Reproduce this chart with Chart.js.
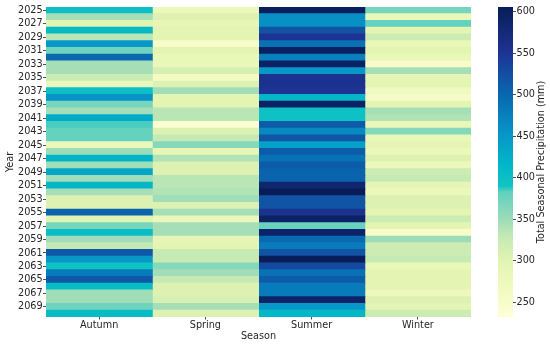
<!DOCTYPE html>
<html>
<head>
<meta charset="utf-8">
<script src="https://cdn.jsdelivr.net/npm/chart.js@4"></script>
<style>
  html, body { margin: 0; padding: 0; background: #fff; }
  #wrap { position: relative; width: 550px; height: 345px; }
  #heat { position: absolute; left: 0; top: 0; }
  #cbar { position: absolute; left: 490px; top: 0; }
</style>
</head>
<body>
<div id="wrap">
  <canvas id="heat" width="480" height="345"></canvas>
  <canvas id="cbar" width="60" height="345"></canvas>
</div>
<script>
const years = [2025, 2026, 2027, 2028, 2029, 2030, 2031, 2032, 2033, 2034,
  2035, 2036, 2037, 2038, 2039, 2040, 2041, 2042, 2043, 2044,
  2045, 2046, 2047, 2048, 2049, 2050, 2051, 2052, 2053, 2054,
  2055, 2056, 2057, 2058, 2059, 2060, 2061, 2062, 2063, 2064,
  2065, 2066, 2067, 2068, 2069, 2070];
const seasons = ['Autumn', 'Spring', 'Summer', 'Winter'];

// precipitation (mm), one value per year
const autumn = [400, 345, 300, 410, 335, 450, 375, 500, 345, 345,
  325, 280, 400, 455, 370, 345, 430, 385, 380, 380,
  280, 350, 420, 348, 435, 348, 415, 345, 305, 305,
  505, 300, 370, 405, 348, 330, 515, 450, 392, 480,
  515, 405, 348, 348, 375, 405];
const spring = [280, 305, 290, 298, 298, 252, 298, 285, 285, 312,
  262, 305, 348, 298, 298, 335, 335, 235, 305, 328,
  362, 290, 340, 305, 305, 335, 335, 340, 348, 305,
  345, 285, 345, 345, 292, 298, 328, 328, 362, 348,
  328, 305, 305, 312, 345, 305];
const summer = [600, 458, 458, 520, 550, 490, 598, 475, 595, 450,
  555, 555, 550, 415, 595, 395, 395, 512, 465, 518,
  440, 512, 490, 512, 505, 505, 585, 606, 520, 520,
  555, 595, 378, 592, 498, 480, 520, 605, 530, 490,
  512, 480, 480, 590, 450, 415];
const winter = [370, 285, 380, 298, 322, 285, 298, 285, 252, 345,
  292, 298, 270, 255, 298, 345, 340, 285, 362, 285,
  292, 280, 305, 280, 322, 328, 292, 280, 305, 305,
  298, 322, 298, 252, 350, 322, 322, 328, 285, 298,
  298, 298, 278, 305, 298, 322];
const cbTicks = [250, 300, 350, 400, 450, 500, 550, 600];

const values = [autumn, spring, summer, winter];
const vmin = 232, vmax = 606;

// colour ramp
const ramp = [
  [232, '#fdfed6'], [260, '#f4fbc4'], [300, '#e2f4b2'], [330, '#c4e9b4'],
  [350, '#9cdcb8'], [383, '#60d0c0'], [390, '#10c4c4'], [420, '#00b4c8'],
  [450, '#0898c8'], [500, '#0868b0'], [550, '#1e3494'], [606, '#081d58']
];

function hexRgb(h) {
  return [1, 3, 5].map(i => parseInt(h.substr(i, 2), 16));
}
function colorFor(v) {
  if (v <= ramp[0][0]) return ramp[0][1];
  for (let i = 1; i < ramp.length; i++) {
    if (v <= ramp[i][0]) {
      const t = (v - ramp[i - 1][0]) / (ramp[i][0] - ramp[i - 1][0]);
      const a = hexRgb(ramp[i - 1][1]), b = hexRgb(ramp[i][1]);
      const c = a.map((x, j) => Math.round(x + (b[j] - x) * t));
      return 'rgb(' + c.join(',') + ')';
    }
  }
  return ramp[ramp.length - 1][1];
}

const font = { family: 'DejaVu Sans', size: 9.7 };
const ink = '#262626';

new Chart(document.getElementById('heat'), {
  type: 'bar',
  data: {
    labels: years.map(String),
    datasets: seasons.map((s, k) => ({
      label: s,
      data: years.map(() => [k, k + 1]),
      backgroundColor: values[k].map(colorFor),
      borderWidth: 0,
      inflateAmount: 0.5,
      barPercentage: 1,
      categoryPercentage: 1,
      grouped: false
    }))
  },
  options: {
    indexAxis: 'y',
    responsive: false,
    animation: false,
    layout: { padding: { top: 7, right: 9, left: 0, bottom: 0 } },
    plugins: { legend: { display: false }, tooltip: { enabled: false } },
    scales: {
      x: {
        type: 'linear',
        min: 0,
        max: 4,
        afterBuildTicks: s => { s.ticks = seasons.map((_, k) => ({ value: k + 0.5 })); },
        afterFit: s => { s.height = 28; },
        ticks: { callback: v => seasons[Math.floor(v)], font, color: ink, padding: 0, maxRotation: 0 },
        grid: { drawOnChartArea: false, tickLength: 2.5, tickColor: ink, tickWidth: 0.8 },
        border: { display: false },
        title: { display: true, text: 'Season', font, color: ink, padding: { top: 0, bottom: 2.5 } }
      },
      y: {
        afterFit: s => { s.width = 46; },
        ticks: { autoSkip: false, callback: (v, i) => (i % 2 ? '' : years[i]), font, color: ink, padding: 0.3 },
        grid: {
          offset: false,
          drawOnChartArea: false, tickLength: 3, tickWidth: 0.8,
          tickColor: c => (c.index % 2 ? 'rgba(0,0,0,0)' : ink)
        },
        border: { display: false },
        title: { display: true, text: 'Year', font, color: ink, padding: { top: 4.2, bottom: 0 } }
      }
    }
  }
});

const cbTitle = {
  id: 'cbTitle',
  afterDraw(chart) {
    const c = chart.ctx;
    const a = chart.chartArea;
    c.save();
    c.translate(51.7, (a.top + a.bottom) / 2);
    c.rotate(-Math.PI / 2);
    c.font = font.size + 'px "DejaVu Sans"';
    c.fillStyle = ink;
    c.textAlign = 'center';
    c.textBaseline = 'middle';
    c.fillText('Total Seasonal Precipitation (mm)', 0, 0);
    c.restore();
  }
};

new Chart(document.getElementById('cbar'), {
  type: 'bar',
  data: {
    labels: [''],
    datasets: [{
      data: [[vmin, vmax]],
      backgroundColor: ctx => {
        const a = ctx.chart.chartArea;
        if (!a) return 'rgba(0,0,0,0)';
        const g = ctx.chart.ctx.createLinearGradient(0, a.bottom, 0, a.top);
        ramp.forEach(([v, col]) => g.addColorStop((v - vmin) / (vmax - vmin), col));
        return g;
      },
      borderWidth: 0,
      barPercentage: 1,
      categoryPercentage: 1
    }]
  },
  options: {
    responsive: false,
    animation: false,
    layout: { padding: { left: 8, top: 7, bottom: 28, right: 0 } },
    plugins: { legend: { display: false }, tooltip: { enabled: false } },
    scales: {
      x: { display: false },
      y: {
        position: 'right',
        min: vmin,
        max: vmax,
        afterBuildTicks: s => { s.ticks = cbTicks.map(v => ({ value: v })); },
        afterFit: s => { s.width = 37; },
        ticks: { font, color: ink, padding: 0.5 },
        grid: { drawOnChartArea: false, tickLength: 3, tickColor: ink, tickWidth: 0.8 },
        border: { display: false }
      }
    }
  },
  plugins: [cbTitle]
});
</script>
</body>
</html>
